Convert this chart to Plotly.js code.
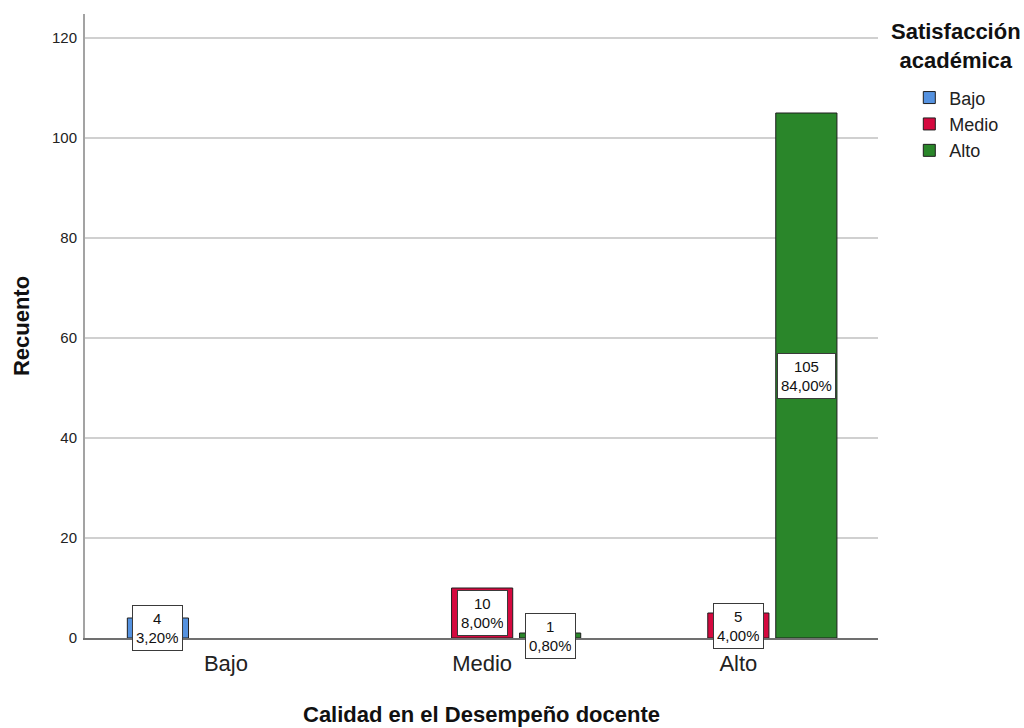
<!DOCTYPE html>
<html>
<head>
<meta charset="utf-8">
<script src="https://cdn.plot.ly/plotly-3.0.1.min.js"></script>
<style>html,body{margin:0;padding:0;background:#fff;}#chart{width:1024px;height:728px;}</style>
</head>
<body>
<div id="chart"></div>
<script>
// Categories on the x axis (Calidad en el Desempeño docente)
const categories = ['Bajo', 'Medio', 'Alto'];
// Series (Satisfacción académica)
const seriesNames = ['Bajo', 'Medio', 'Alto'];
const bajoCounts  = [4, null, null];
const medioCounts = [null, 10, 5];
const altoCounts  = [null, 1, 105];
const seriesColors = ['#5592e0', '#d5093f', '#2a862a'];
const yTicks = [0, 20, 40, 60, 80, 100, 120];
const legendTitle = 'Satisfacción<br>académica';

const seriesValues = [bajoCounts, medioCounts, altoCounts];
const total = seriesValues.flat().reduce((s, v) => s + (v || 0), 0);
const BARGAP = 0.204, BARGROUPGAP = 0.1;
const FONT = 'Liberation Sans, Arial, sans-serif';

const traces = seriesValues.map((vals, i) => ({
  type: 'bar',
  name: seriesNames[i],
  x: categories,
  y: vals,
  marker: {color: seriesColors[i], line: {color: '#1e1e1e', width: 1}},
  hoverinfo: 'x+y+name'
}));

const annotations = [];
const slot = (1 - BARGAP) / seriesValues.length;
seriesValues.forEach((vals, i) => {
  vals.forEach((v, j) => {
    if (v == null) return;
    const pct = (v / total * 100).toFixed(2).replace('.', ',') + '%';
    annotations.push({
      xref: 'x', yref: 'y',
      x: j + (i - (seriesValues.length - 1) / 2) * slot,
      y: v / 2,
      text: v + '<br>' + pct,
      showarrow: false,
      font: {family: FONT, size: 15, color: '#111'},
      bgcolor: '#ffffff',
      bordercolor: '#3a3a3a',
      borderwidth: 1,
      borderpad: 3,
      height: 38
    });
  });
});

// legend title, centred over the legend entries
annotations.push({
  xref: 'paper', yref: 'paper',
  x: 1.0985, y: 0.995, xanchor: 'center', yanchor: 'top',
  text: '<b>' + legendTitle + '</b>', align: 'center',
  showarrow: false,
  font: {family: FONT, size: 22, color: '#111'}
});

const layout = {
  width: 1024, height: 728,
  margin: {l: 85, r: 146, t: 14, b: 90},
  paper_bgcolor: '#ffffff',
  plot_bgcolor: '#ffffff',
  barmode: 'group',
  bargap: BARGAP,
  bargroupgap: BARGROUPGAP,
  font: {family: FONT, color: '#222'},
  xaxis: {
    type: 'category',
    categoryorder: 'array',
    categoryarray: categories,
    range: [-0.55, 2.545],
    showline: true, linecolor: '#707070', linewidth: 1.5,
    showgrid: false, zeroline: false,
    ticks: 'outside', ticklen: 5, tickcolor: 'rgba(0,0,0,0)',
    tickfont: {family: FONT, size: 22, color: '#222'},
    title: {text: 'Calidad en el Desempeño docente', font: {family: FONT, size: 22, color: '#111', weight: 'bold'}, standoff: 31},
    automargin: false,
    fixedrange: true
  },
  yaxis: {
    range: [0, 124.8],
    tickvals: yTicks,
    showline: true, linecolor: '#a3a3a3', linewidth: 2,
    showgrid: true, gridcolor: '#d0d0d0', gridwidth: 1.8,
    zeroline: false,
    ticks: 'outside', ticklen: 3, tickcolor: 'rgba(0,0,0,0)',
    tickfont: {family: FONT, size: 15, color: '#222'},
    title: {text: 'Recuento', font: {family: FONT, size: 22, color: '#111', weight: 'bold'}, standoff: 16},
    automargin: false,
    fixedrange: true
  },
  showlegend: true,
  legend: {
    xref: 'container', yref: 'container',
    x: 0.888, y: 0.891, xanchor: 'left', yanchor: 'top',
    bgcolor: 'rgba(0,0,0,0)', borderwidth: 0,
    font: {family: FONT, size: 18, color: '#222'},
    itemwidth: 30,
    traceorder: 'normal'
  },
  annotations: annotations
};

Plotly.newPlot('chart', traces, layout, {displayModeBar: false, staticPlot: true});
</script>
</body>
</html>
